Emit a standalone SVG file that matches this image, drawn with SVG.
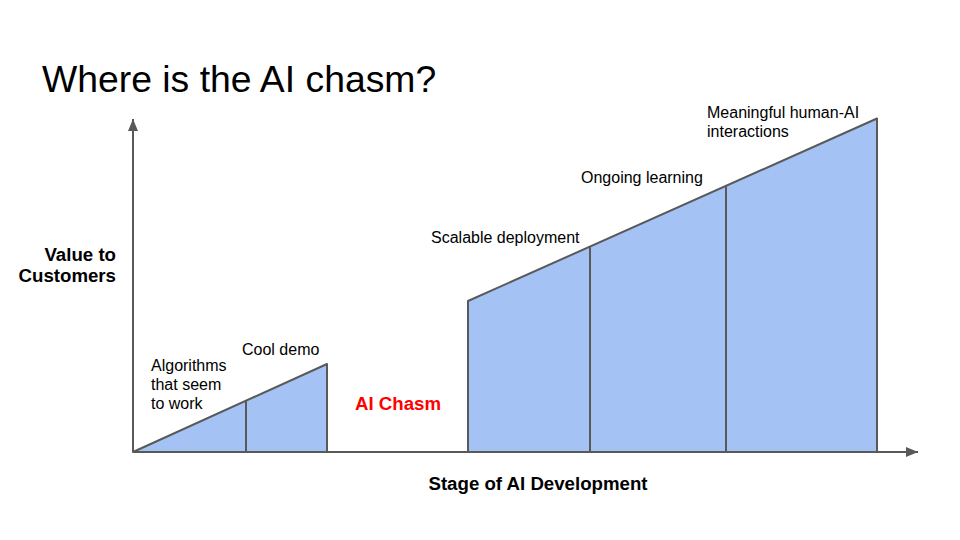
<svg xmlns="http://www.w3.org/2000/svg" width="960" height="540" viewBox="0 0 960 540">
<style>
.t{font-family:"Liberation Sans",Arial,sans-serif;fill:#000}
.lbl{font-size:16px}
.b{font-size:18.67px;font-weight:bold}
.shape{fill:#a4c2f4;stroke:#595959;stroke-width:2;stroke-linejoin:round}
.div{stroke:#595959;stroke-width:2;fill:none}
.axis{stroke:#595959;stroke-width:2;fill:none}
</style>
<defs>
<marker id="ah" markerWidth="12" markerHeight="10" refX="12" refY="5" orient="auto" markerUnits="userSpaceOnUse">
<path d="M0,0 L12,5 L0,10 Z" fill="#595959"/>
</marker>
</defs>
<rect width="960" height="540" fill="#fff"/>
<text class="t" x="42" y="92" font-size="37.33">Where is the AI chasm?</text>

<g id="stage-early">
<polygon class="shape" points="133,452 327,364 327,452"/>
<line class="div" x1="246" y1="401" x2="246" y2="452"/>
</g>
<g id="stage-late">
<polygon class="shape" points="468,452 468,301 877,118.5 877,452"/>
<line class="div" x1="590" y1="246.5" x2="590" y2="452"/>
<line class="div" x1="726" y1="185.6" x2="726" y2="452"/>
</g>

<g id="connectors">
<line class="axis" x1="133" y1="452" x2="133" y2="119" marker-end="url(#ah)"/>
<line class="axis" x1="133" y1="452" x2="918" y2="452" marker-end="url(#ah)"/>
</g>

<g id="labels">
<text class="t b" x="116" y="261" text-anchor="end">Value to</text>
<text class="t b" x="116" y="282" text-anchor="end">Customers</text>
<text class="t b" x="538" y="490" text-anchor="middle">Stage of AI Development</text>
<text class="t b" x="355" y="410" style="fill:#ff0000">AI Chasm</text>
<text class="t lbl" x="151" y="371">Algorithms</text>
<text class="t lbl" x="151" y="390">that seem</text>
<text class="t lbl" x="151" y="409">to work</text>
<text class="t lbl" x="242" y="355">Cool demo</text>
<text class="t lbl" x="431" y="243">Scalable deployment</text>
<text class="t lbl" x="581" y="183">Ongoing learning</text>
<text class="t lbl" x="707" y="118">Meaningful human-AI</text>
<text class="t lbl" x="707" y="137">interactions</text>
</g>
</svg>
